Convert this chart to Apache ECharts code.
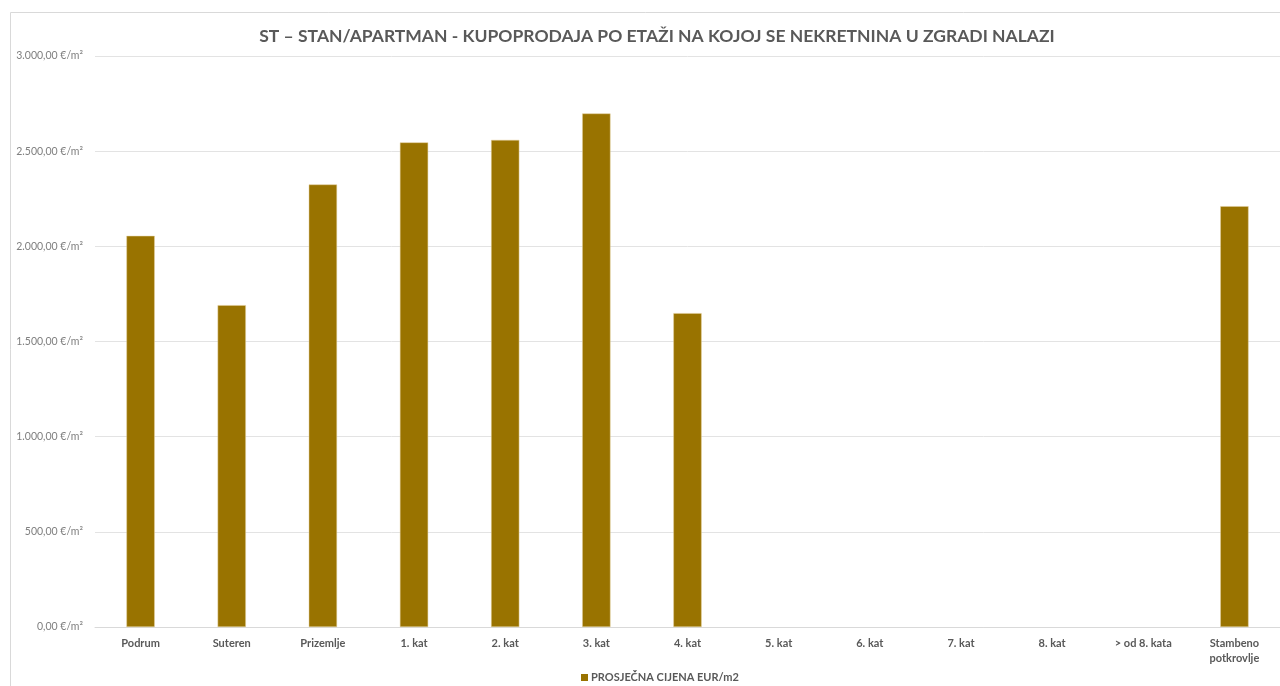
<!DOCTYPE html>
<html>
<head>
<meta charset="utf-8">
<script src="https://cdn.jsdelivr.net/npm/echarts@6/dist/echarts.min.js"></script>
<style>
  html, body { margin: 0; padding: 0; background: #fff; }
  #main { width: 1280px; height: 686px; }
</style>
</head>
<body>
<div id="main"></div>
<script>
const categories = ['Podrum', 'Suteren', 'Prizemlje', '1. kat', '2. kat', '3. kat', '4. kat',
  '5. kat', '6. kat', '7. kat', '8. kat', '> od 8. kata', 'Stambeno\npotkrovlje'];
const prices = [2055, 1691, 2325, 2546, 2559, 2698, 1649, null, null, null, null, null, 2211];
const seriesName = 'PROSJEČNA CIJENA EUR/m2';

const chartDom = document.getElementById('main');
const myChart = echarts.init(chartDom);

function euro(v) {
  const parts = v.toFixed(2).split('.');
  const whole = parts[0].replace(/\B(?=(\d{3})+(?!\d))/g, '.');
  return whole + ',' + parts[1] + ' €/m²';
}

const option = {
  textStyle: { fontFamily: 'Lato, "Open Sans", sans-serif' },
  graphic: [
    {
      type: 'rect',
      shape: { x: 10.5, y: 12.5, width: 1300, height: 700 },
      style: { fill: 'none', stroke: '#d9d9d9', lineWidth: 1 },
      silent: true
    }
  ],
  title: {
    text: 'ST – STAN/APARTMAN - KUPOPRODAJA PO ETAŽI NA KOJOJ SE NEKRETNINA U ZGRADI NALAZI',
    left: 652,
    textAlign: 'center',
    top: 22,
    textStyle: { fontSize: 17.5, fontWeight: 'bold', color: '#595959', fontFamily: 'Lato, sans-serif' }
  },
  legend: {
    bottom: -2,
    left: 576,
    itemWidth: 7,
    itemHeight: 7,
    itemGap: 4,
    icon: 'rect',
    itemStyle: { borderWidth: 0 },
    textStyle: { fontSize: 11, fontWeight: 'bold', color: '#595959', padding: [0, 0, 0, -2] },
    data: [seriesName]
  },
  grid: { left: 95, right: -5, top: 56, bottom: 59, containLabel: false },
  xAxis: {
    type: 'category',
    data: categories,
    axisTick: { show: false },
    axisLine: { lineStyle: { color: '#d9d9d9' } },
    axisLabel: { color: '#595959', fontSize: 11, fontWeight: 'bold', margin: 9, interval: 0, lineHeight: 15 }
  },
  yAxis: {
    type: 'value',
    min: 0,
    max: 3000,
    interval: 500,
    axisLine: { show: false },
    axisTick: { show: false },
    splitLine: { lineStyle: { color: '#e3e3e3' } },
    axisLabel: { color: '#7f7f7f', fontSize: 10.5, margin: 12, formatter: euro }
  },
  series: [
    {
      name: seriesName,
      type: 'bar',
      data: prices,
      barWidth: '31%',
      itemStyle: { color: '#997300', borderColor: '#e3cf9a', borderWidth: 0.5 }
    }
  ]
};

myChart.setOption(option);
</script>
</body>
</html>
